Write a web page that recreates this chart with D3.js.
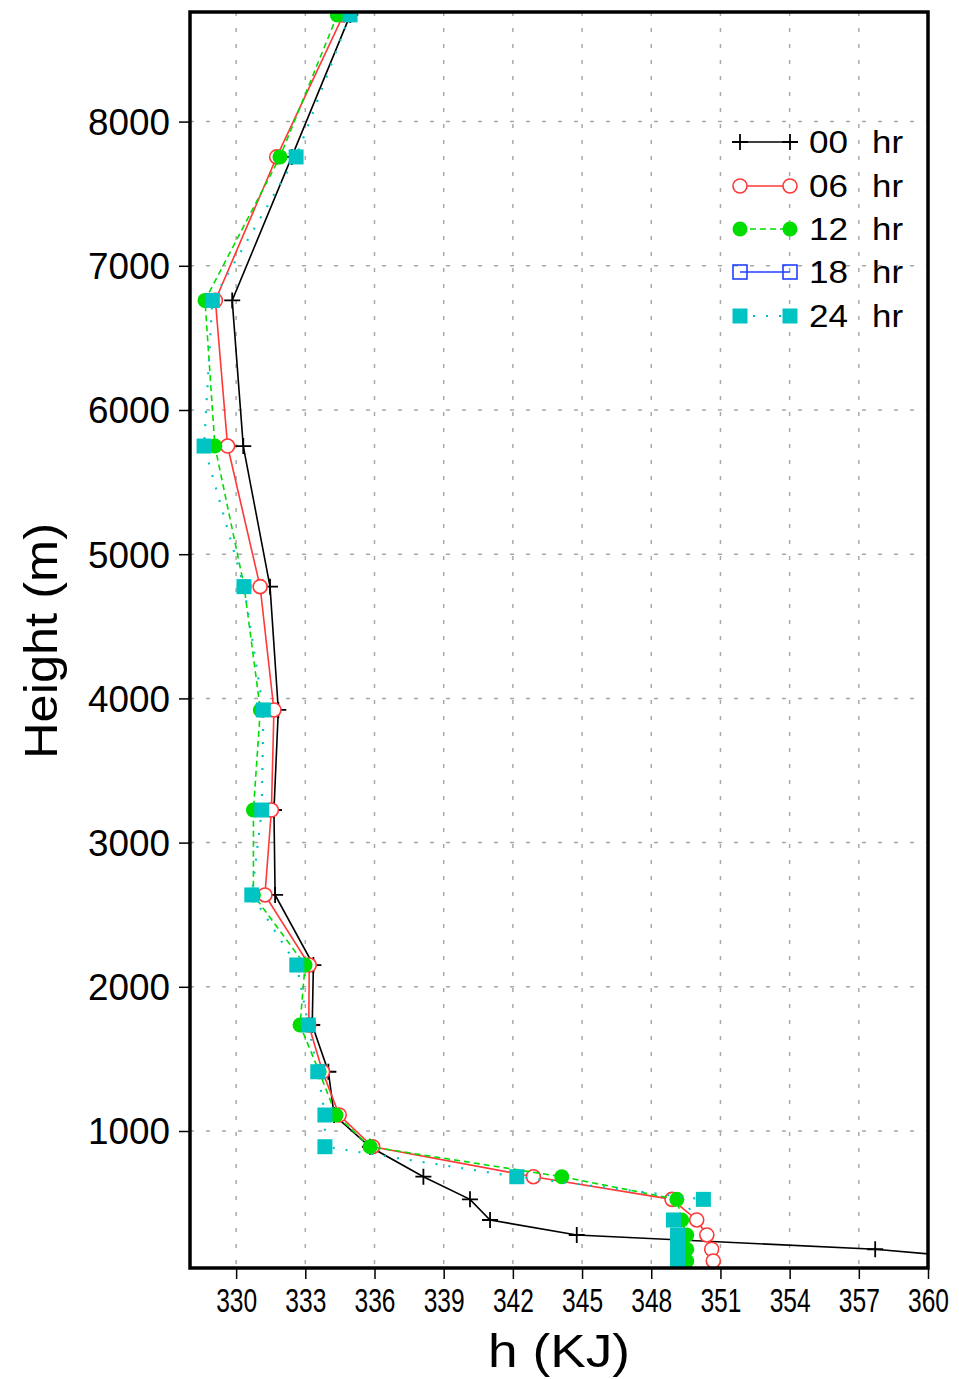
<!DOCTYPE html>
<html>
<head>
<meta charset="utf-8">
<script src="https://cdn.jsdelivr.net/npm/d3@7"></script>
<style>
  body { margin: 0; background: #fff; }
  svg text { font-family: "Liberation Sans", Arial, sans-serif; fill: #000; }
</style>
</head>
<body>
<svg id="chart" width="959" height="1379"></svg>
<script>
// ---- data ----
const heights = [8740, 7755, 6760, 5750, 4775, 3920, 3226, 2637, 2151, 1735, 1411, 1111, 891, 683, 526, 383, 279, 180, 99];
const hr00 = [334.95, 332.41, 329.83, 330.31, 331.47, 331.83, 331.64, 331.69, 333.35, 333.30, 334.00, 334.25, 335.80, 338.12, 340.14, 341.01, 344.77, 357.71, 363.5];
const hr06 = [334.65, 331.76, 329.10, 329.63, 331.04, 331.64, 331.53, 331.25, 333.17, 333.15, 333.75, 334.47, 335.92, 342.89, 348.90, 349.97, 350.41, 350.62, 350.69];
const hr12 = [334.39, 331.90, 328.65, 329.08, 330.35, 331.05, 330.75, 330.75, 332.99, 332.77, 333.60, 334.33, 335.81, 344.12, 349.11, 349.32, 349.54, 349.54, 349.54];
const hr18 = []; // not visible in the figure
const hr24 = [334.94, 332.60, 328.97, 328.61, 330.34, 331.18, 331.11, 330.68, 332.63, 333.13, 333.54, 333.85, 333.85, 342.17, 350.26, 348.96, 349.14, 349.14, 349.14];
const seriesNames = ["00", "06", "12", "18", "24"];
const xTicks = [330, 333, 336, 339, 342, 345, 348, 351, 354, 357, 360];
const yTicks = [1000, 2000, 3000, 4000, 5000, 6000, 7000, 8000];
const xTitle = "h (KJ)";
const yTitle = "Height (m)";

// ---- layout ----
const L = 190, R = 928, T = 12, B = 1268;
const svg = d3.select("#chart");
const x = d3.scaleLinear().domain([328, 360]).range([L, R]);
const y = d3.scaleLinear().domain([50, 8760]).range([B, T]);

const styles = [
  {name: seriesNames[0], vals: hr00, color: "#000000", dash: null, marker: "plus"},
  {name: seriesNames[1], vals: hr06, color: "#ff3838", dash: null, marker: "ocircle"},
  {name: seriesNames[2], vals: hr12, color: "#00dd00", dash: "6,4", marker: "fcircle"},
  {name: seriesNames[3], vals: hr18, color: "#2040ff", dash: null, marker: "osquare"},
  {name: seriesNames[4], vals: hr24, color: "#00c4c4", dash: "2,11", marker: "fsquare"}
];

// clip
svg.append("defs").append("clipPath").attr("id", "clip")
  .append("rect").attr("x", L).attr("y", T).attr("width", R - L).attr("height", B - T);

// grid
const grid = svg.append("g");
grid.selectAll("line.vx").data(xTicks.filter(d => d < 360)).join("line")
  .attr("x1", d => x(d)).attr("x2", d => x(d)).attr("y1", T).attr("y2", B)
  .attr("stroke", "#a8a8a8").attr("stroke-width", 1.5).attr("stroke-dasharray", "4,12");
grid.selectAll("line.hy").data(yTicks).join("line")
  .attr("x1", L).attr("x2", R).attr("y1", d => y(d)).attr("y2", d => y(d))
  .attr("stroke", "#a8a8a8").attr("stroke-width", 1.5).attr("stroke-dasharray", "4,12");

// axes
const xAxis = d3.axisBottom(x).tickValues(xTicks).tickFormat(d3.format("d"))
  .tickSize(11).tickSizeOuter(0).tickPadding(5);
const gx = svg.append("g").attr("transform", `translate(0,${B})`).call(xAxis);
gx.select(".domain").remove();
gx.selectAll(".tick line").attr("stroke", "#000").attr("stroke-width", 1.5);
gx.selectAll(".tick text").attr("font-size", 33).attr("dy", "0.85em")
  .attr("textLength", 41).attr("lengthAdjust", "spacingAndGlyphs")
  .style("font-family", "'Liberation Sans', Arial, sans-serif");

const yAxis = d3.axisLeft(y).tickValues(yTicks).tickFormat(d3.format("d"))
  .tickSize(11).tickSizeOuter(0).tickPadding(9);
const gy = svg.append("g").attr("transform", `translate(${L},0)`).call(yAxis);
gy.select(".domain").remove();
gy.selectAll(".tick line").attr("stroke", "#000").attr("stroke-width", 1.5);
gy.selectAll(".tick text").attr("font-size", 36).attr("dy", "0.36em")
  .attr("textLength", 82).attr("lengthAdjust", "spacingAndGlyphs")
  .style("font-family", "'Liberation Sans', Arial, sans-serif");

// series
const plot = svg.append("g").attr("clip-path", "url(#clip)");
const line = d3.line().x(d => x(d.v)).y(d => y(d.h));

function drawMarker(g, type, color, cx, cy) {
  if (type === "plus") {
    g.append("path").attr("d", `M${cx-8},${cy}H${cx+8}M${cx},${cy-8}V${cy+8}`)
      .attr("stroke", color).attr("stroke-width", 1.8).attr("fill", "none");
  } else if (type === "ocircle") {
    g.append("circle").attr("cx", cx).attr("cy", cy).attr("r", 7)
      .attr("fill", "#fff").attr("stroke", color).attr("stroke-width", 1.6);
  } else if (type === "fcircle") {
    g.append("circle").attr("cx", cx).attr("cy", cy).attr("r", 7.5).attr("fill", color);
  } else if (type === "osquare") {
    g.append("rect").attr("x", cx-7).attr("y", cy-7).attr("width", 14).attr("height", 14)
      .attr("fill", "none").attr("stroke", color).attr("stroke-width", 1.6);
  } else if (type === "fsquare") {
    g.append("rect").attr("x", cx-7.5).attr("y", cy-7.5).attr("width", 15).attr("height", 15).attr("fill", color);
  }
}

styles.forEach(s => {
  const pts = s.vals.map((v, i) => ({v, h: heights[i]}));
  if (!pts.length) return;
  const g = plot.append("g");
  g.append("path").datum(pts).attr("d", line).attr("fill", "none")
    .attr("stroke", s.color).attr("stroke-width", s.name === "24" ? 2.2 : 1.6)
    .attr("stroke-dasharray", s.dash);
  pts.forEach(p => drawMarker(g, s.marker, s.color, x(p.v), y(p.h)));
});

// frame
svg.append("rect").attr("x", L).attr("y", T).attr("width", R - L).attr("height", B - T)
  .attr("fill", "none").attr("stroke", "#000").attr("stroke-width", 3.5);

// legend
const legY = [142, 186, 229, 272, 316];
const lg = svg.append("g");
styles.forEach((s, i) => {
  const yy = legY[i];
  lg.append("line").attr("x1", 740).attr("x2", 790).attr("y1", yy).attr("y2", yy)
    .attr("stroke", s.color).attr("stroke-width", s.name === "24" ? 2.2 : 1.6)
    .attr("stroke-dasharray", s.dash);
  drawMarker(lg, s.marker, s.color, 740, yy);
  drawMarker(lg, s.marker, s.color, 790, yy);
  lg.append("text").attr("x", 809).attr("y", yy + 11).attr("font-size", 31)
    .attr("textLength", 39).attr("lengthAdjust", "spacingAndGlyphs").text(s.name);
  lg.append("text").attr("x", 872).attr("y", yy + 11).attr("font-size", 31)
    .attr("textLength", 31).attr("lengthAdjust", "spacingAndGlyphs").text("hr");
});

// titles
svg.append("text").attr("x", 559).attr("y", 1367).attr("text-anchor", "middle")
  .attr("font-size", 46).attr("textLength", 142).attr("lengthAdjust", "spacingAndGlyphs").text(xTitle);
svg.append("text").attr("transform", "translate(57,641) rotate(-90)").attr("text-anchor", "middle")
  .attr("font-size", 46).attr("textLength", 236).attr("lengthAdjust", "spacingAndGlyphs").text(yTitle);
</script>
</body>
</html>
